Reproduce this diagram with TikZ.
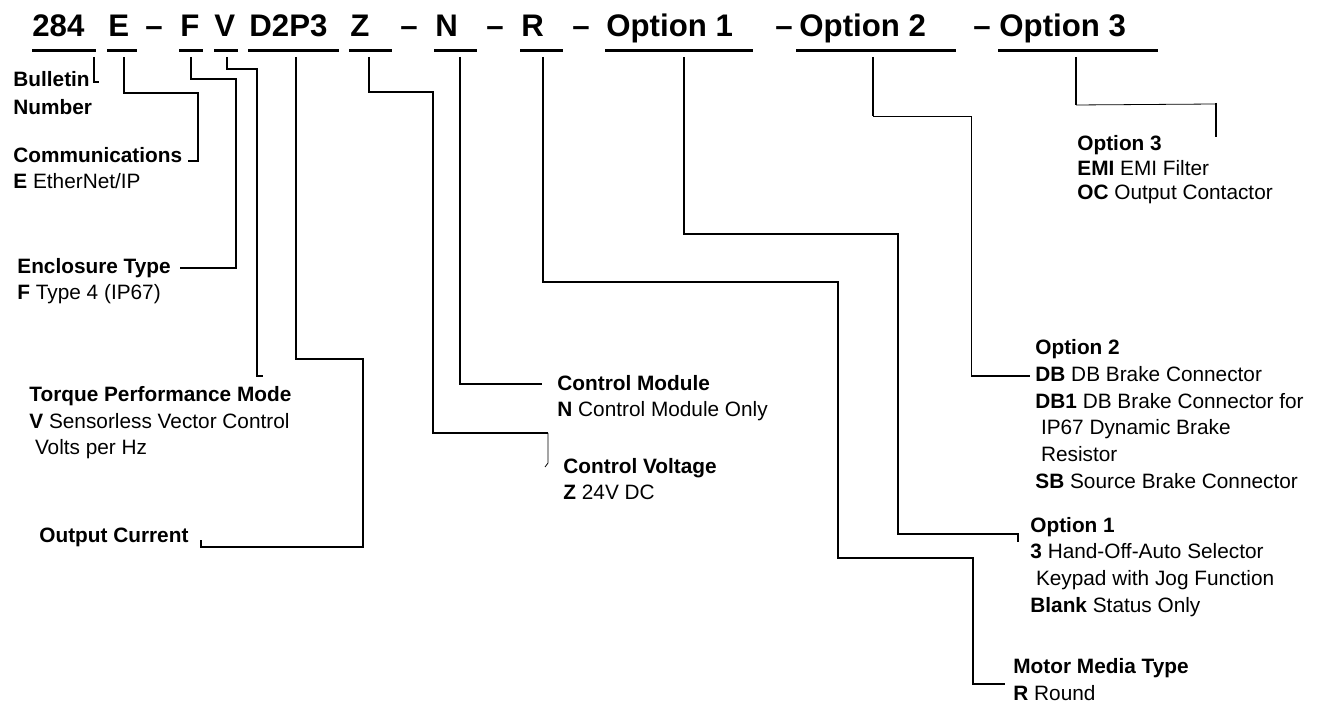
\documentclass[tikz,border=0pt]{standalone}
\usepackage{fontspec}
\setmainfont{Liberation Sans}

\begin{document}
\begin{tikzpicture}[x=0.5pt, y=-0.5pt,
  code/.style={anchor=base west, inner sep=0pt, font=\fontsize{15.6}{18}\selectfont\bfseries},
  lbl/.style={anchor=base west, inner sep=0pt, align=left, font=\fontsize{10.4}{13.3}\selectfont},
  uline/.style={line width=1.5pt},
  edge/.style={line width=0.9pt},
  thinedge/.style={line width=0.4pt}
]
\useasboundingbox (0,0) rectangle (1320,704);
% catalog string
\node[code] (c284) at (32,37) {284};
\node[code] (cE) at (108,37) {E};
\node[code] (d1) at (145,37) {--};
\node[code] (cF) at (180,37) {F};
\node[code] (cV) at (214,37) {V};
\node[code] (cD) at (249,37) {D2P3};
\node[code] (cZ) at (350,37) {Z};
\node[code] (d2) at (400,37) {--};
\node[code] (cN) at (435,37) {N};
\node[code] (d3) at (486,37) {--};
\node[code] (cR) at (521,37) {R};
\node[code] (d4) at (572,37) {--};
\node[code] (cO1) at (606,37) {Option 1};
\node[code] (d5) at (775,37) {--};
\node[code] (cO2) at (799,37) {Option 2};
\node[code] (d6) at (973,37) {--};
\node[code] (cO3) at (999,37) {Option 3};
\foreach \a/\b in {32/96, 107/137, 179/203, 214/238, 248/339, 349/392,
                   434/477, 520/563, 605/753, 796/956, 998/1158}
  \draw[uline] (\a,50.5) -- (\b,50.5);

% descriptions (placed at the baseline of their last line)
\node[lbl] (bul) at (13,115) {\textbf{Bulletin}\\[0.7pt]\textbf{Number}};
\node[lbl] (com) at (13,189) {\textbf{Communications}\\\textbf{E} EtherNet/IP};
\node[lbl] (enc) at (17,300) {\textbf{Enclosure Type}\\\textbf{F} Type 4 (IP67)};
\node[lbl] (trq) at (29,455) {\textbf{Torque Performance Mode}\\\textbf{V} Sensorless Vector Control\\\hspace*{2.8pt}Volts per Hz};
\node[lbl] (out) at (39,542) {\textbf{Output Current}};
\node[lbl] (cmod) at (557,417) {\textbf{Control Module}\\\textbf{N} Control Module Only};
\node[lbl] (cvol) at (563,500) {\textbf{Control Voltage}\\\textbf{Z} 24V DC};
\node[lbl] (opt3) at (1077,200) {\textbf{Option 3}\\[-1pt]\textbf{EMI} EMI Filter\\[-1pt]\textbf{OC} Output Contactor};
\node[lbl] (opt2) at (1035,488) {\textbf{Option 2}\\\textbf{DB} DB Brake Connector\\\textbf{DB1} DB Brake Connector for\\\hspace*{2.8pt}IP67 Dynamic Brake\\\hspace*{2.8pt}Resistor\\\textbf{SB} Source Brake Connector};
\node[lbl] (opt1) at (1030,612) {\textbf{Option 1}\\\textbf{3} Hand-Off-Auto Selector\\\hspace*{2.8pt}Keypad with Jog Function\\\textbf{Blank} Status Only};
\node[lbl] (mmt) at (1013,700) {\textbf{Motor Media Type}\\\textbf{R} Round};

% leader ends
\coordinate (t284) at (94,57);
\coordinate (tE) at (124,57);
\coordinate (tF) at (191,57);
\coordinate (tV) at (227,57);
\coordinate (tD) at (296,57);
\coordinate (tZ) at (369,57);
\coordinate (tN) at (460,57);
\coordinate (tR) at (543,57);
\coordinate (tO1) at (684,57);
\coordinate (tO2) at (873,57);
\coordinate (tO3) at (1076,57);
\coordinate (e284) at (99,82);
\coordinate (eE) at (188,161);
\coordinate (eF) at (180,268);
\coordinate (eV) at (263,376);
\coordinate (eD) at (201,540);
\coordinate (eZ) at (548,463);
\coordinate (eN) at (542,384);
\coordinate (eR) at (1005,684);
\coordinate (eO1) at (1018,542);
\coordinate (eO2) at (1030,376);
\coordinate (eO3) at (1216,137);

% leaders
\draw[edge] (t284) |- (e284);
\draw[edge] (tE) |- (198,93) |- (eE);
\draw[edge] (tF) |- (236,79) |- (eF);
\draw[edge] (tV) |- (257,69) |- (eV);
\draw[edge] (tD) |- (363,359) |- (201,547) -- (eD);
\draw[edge] (tZ) |- (433,92) |- (548,433);
\draw[thinedge] (548,433) -- (eZ) -- ++(-3,4);
\draw[edge] (tN) |- (eN);
\draw[edge] (tR) |- (838,282) |- (973,558) |- (eR);
\draw[edge] (tO1) |- (898,234) |- (1018,534) -- (eO1);
\draw[edge] (tO2) -- (873,116);
\draw[thinedge] (873,116) -| (971,376);
\draw[edge] (971,376) -- (eO2);
\draw[edge] (tO3) -- (1076,105);
\draw[thinedge] (1076,105) -- (1216,104);
\draw[edge] (1216,103) -- (eO3);
\end{tikzpicture}
\end{document}
